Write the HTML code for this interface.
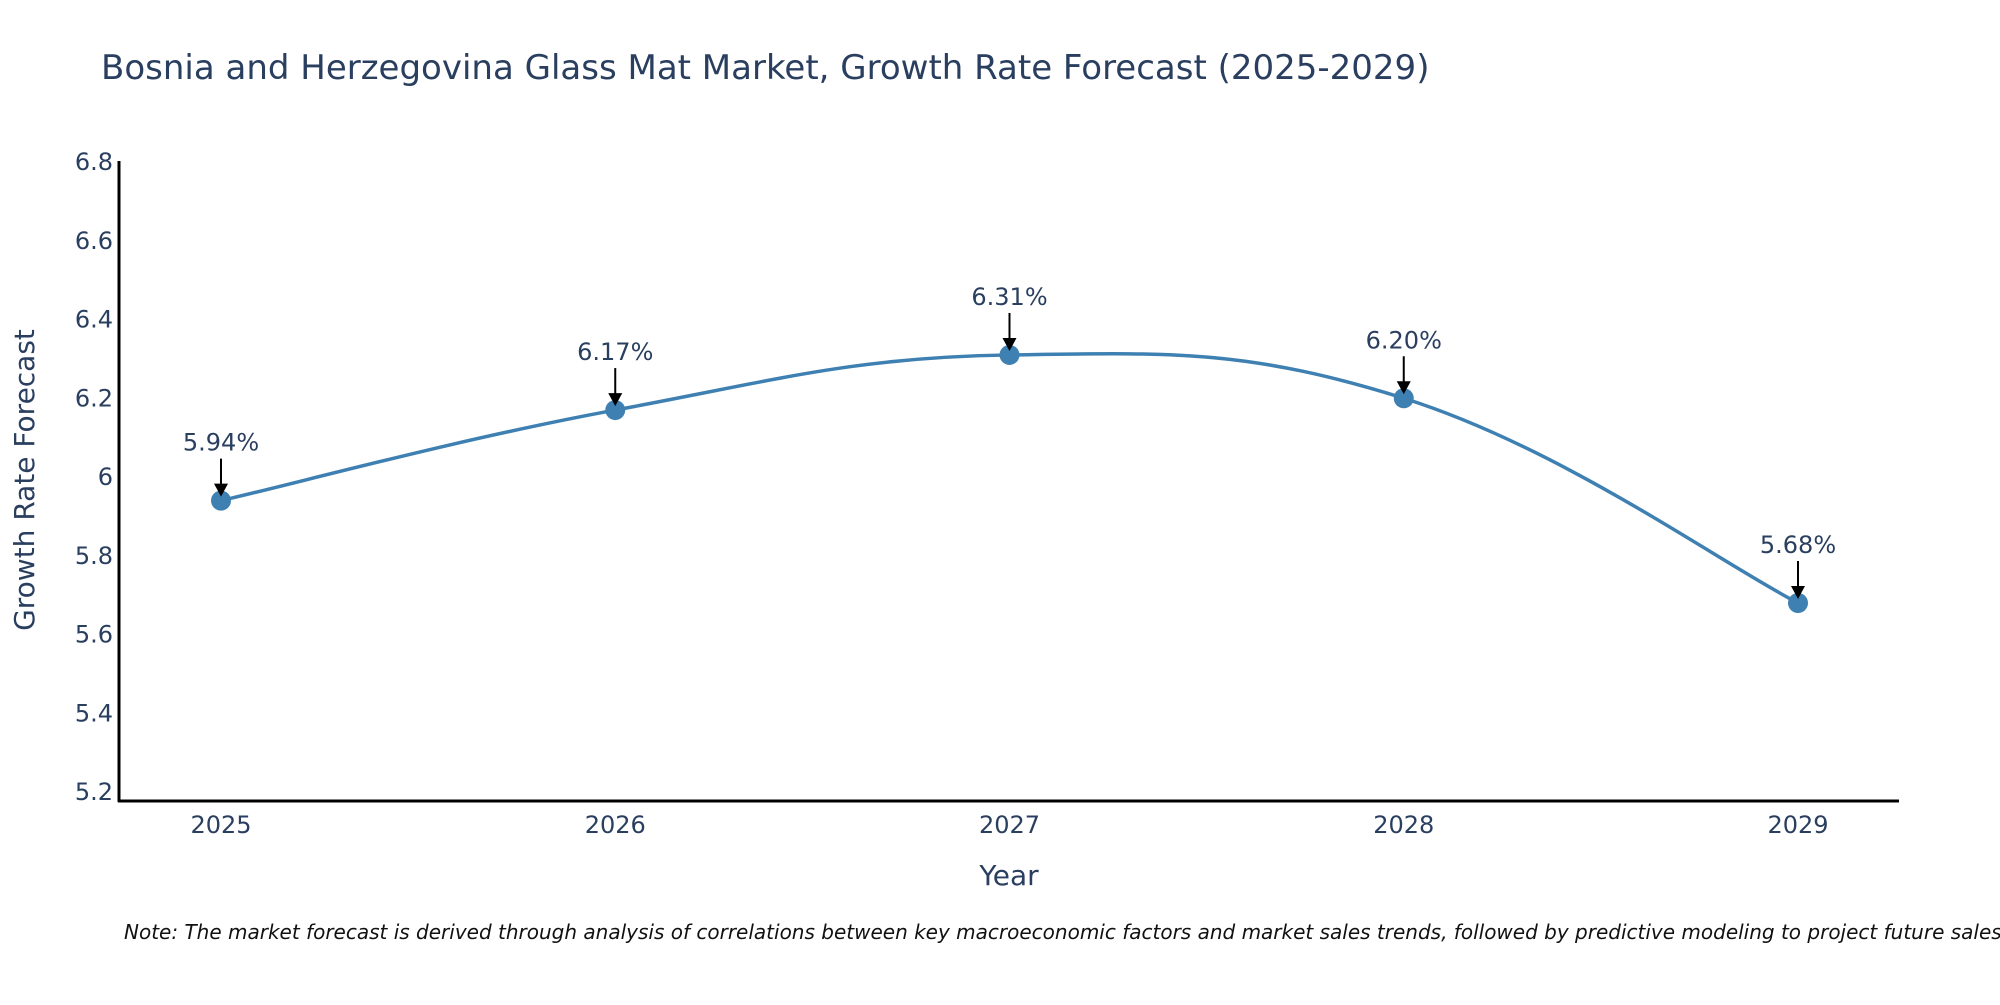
<!DOCTYPE html>
<html><head><meta charset="utf-8"><style>
html,body{margin:0;padding:0;background:#fff;}
svg text{font-family:"DejaVu Sans","Liberation Sans",sans-serif;fill:#2a3f5f;}
</style></head><body>
<svg id="chart" width="2000" height="1000" viewBox="0 0 2000 1000" xmlns="http://www.w3.org/2000/svg">
<text x="101" y="79" font-size="34">Bosnia and Herzegovina Glass Mat Market, Growth Rate Forecast (2025-2029)</text>
<g id="yticks"></g>
<g id="xticks"></g>
<line x1="119" y1="161" x2="119" y2="802" stroke="#000" stroke-width="3"/>
<line x1="118" y1="801" x2="1899" y2="801" stroke="#000" stroke-width="3"/>
<text transform="translate(34,480) rotate(-90)" text-anchor="middle" font-size="28">Growth Rate Forecast</text>
<text x="1009" y="885" text-anchor="middle" font-size="28">Year</text>
<g id="series"></g>
<g id="annots"></g>
<text x="124" y="939" font-size="20" font-style="italic" style="fill:#111">Note: The market forecast is derived through analysis of correlations between key macroeconomic factors and market sales trends, followed by predictive modeling to project future sales.</text>
</svg>
<script>
const years = [2025, 2026, 2027, 2028, 2029];
const growth = [5.94, 6.17, 6.31, 6.20, 5.68];
const yTickValues = [5.2, 5.4, 5.6, 5.8, 6, 6.2, 6.4, 6.6, 6.8];
const yTickLabels = ["5.2", "5.4", "5.6", "5.8", "6", "6.2", "6.4", "6.6", "6.8"];
const pointLabels = ["5.94%", "6.17%", "6.31%", "6.20%", "5.68%"];

const NS = "http://www.w3.org/2000/svg";
const X0 = 221, XSTEP = 394.25;
const xScale = v => X0 + (v - years[0]) * XSTEP;
const Y_TOP = 162, Y_BOT = 792, V_TOP = 6.8, V_BOT = 5.2;
const yScale = v => Y_BOT - (v - V_BOT) / (V_TOP - V_BOT) * (Y_BOT - Y_TOP);
function mk(tag, attrs, parent) { const e = document.createElementNS(NS, tag); for (const k in attrs) e.setAttribute(k, attrs[k]); parent.appendChild(e); return e; }

const yt = document.getElementById('yticks');
yTickValues.forEach((v, i) => {
  const t = mk('text', {x: 113, y: yScale(v) + 8, 'text-anchor': 'end', 'font-size': 24}, yt);
  
  
  t.textContent = yTickLabels[i];
});
const xt = document.getElementById('xticks');
years.forEach(y => {
  const t = mk('text', {x: xScale(y), y: 833, 'text-anchor': 'middle', 'font-size': 24}, xt);
  
  
  t.textContent = String(y);
});

const pts = years.map((y, i) => [xScale(y), yScale(growth[i])]);
let d = `M${pts[0][0]},${pts[0][1]}`;
const s = 0.2;
for (let i = 0; i < pts.length - 1; i++) {
  const p0 = pts[Math.max(0, i - 1)], p1 = pts[i], p2 = pts[i + 1], p3 = pts[Math.min(pts.length - 1, i + 2)];
  const c1 = [p1[0] + (p2[0] - p0[0]) * s, p1[1] + (p2[1] - p0[1]) * s];
  const c2 = [p2[0] - (p3[0] - p1[0]) * s, p2[1] - (p3[1] - p1[1]) * s];
  d += ` C${c1[0]},${c1[1]} ${c2[0]},${c2[1]} ${p2[0]},${p2[1]}`;
}
const ser = document.getElementById('series');
const line = mk('path', {d: d, fill: 'none', stroke: '#3f80b2', 'stroke-width': 3.5}, ser);


pts.forEach(p => {
  const c = mk('circle', {cx: p[0], cy: p[1], r: 10, fill: '#3f80b2'}, ser);
  
  
});
const an = document.getElementById('annots');
pts.forEach((p, i) => {
  const l = mk('line', {x1: p[0], y1: p[1] - 42, x2: p[0], y2: p[1] - 16, stroke: '#000', 'stroke-width': 2}, an);
  
  
  const h = mk('polygon', {points: `${p[0]-7},${p[1]-17} ${p[0]+7},${p[1]-17} ${p[0]},${p[1]-4}`, fill: '#000'}, an);
  
  
  const t = mk('text', {x: p[0], y: p[1] - 50, 'text-anchor': 'middle', 'font-size': 24}, an);
  
  
  t.textContent = pointLabels[i];
});
</script>
</body></html>
